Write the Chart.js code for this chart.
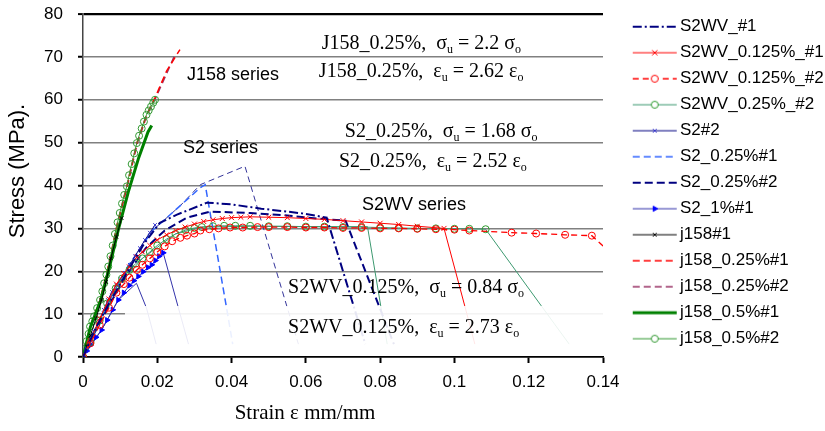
<!DOCTYPE html>
<html>
<head>
<meta charset="utf-8">
<script src="https://cdn.jsdelivr.net/npm/chart.js@4.4.1/dist/chart.umd.min.js"></script>
<style>
html,body{margin:0;padding:0;background:#fff}
#wrap{width:825px;height:431px}
</style>
</head>
<body>
<div id="wrap"><canvas id="c" width="825" height="431"></canvas></div>
<script>
// Stress-strain curves, strain in mm/mm, stress in MPa.
var strainTicks=[0,0.02,0.04,0.06,0.08,0.1,0.12,0.14];
var stressTicks=[0,10,20,30,40,50,60,70,80];

// S2WV series
var s2wv1X=[0,0.003,0.007,0.012,0.0165,0.0207,0.0253,0.0334,0.040,0.048,0.059,0.0656,0.0731,0.0760];
var s2wv1Y=[0,6,12.5,20,26.5,31.3,33.2,36,35.6,34.6,33.5,32.5,11.2,3];
var s2wv125aX=[0,0.002,0.0045,0.007,0.009,0.011,0.0125,0.0145,0.016,0.018,0.02,0.0225,0.025,0.0275,0.03,0.0325,0.035,0.0375,0.04,0.0425,0.045,0.05,0.055,0.06,0.065,0.07,0.075,0.08,0.085,0.09,0.0972,0.103,0.1055];
var s2wv125aY=[0,3.8,9,13.5,17,19.5,21,23.3,24.5,26,27.3,28.5,29.5,30.3,31,31.6,32,32.3,32.5,32.6,32.7,32.6,32.5,32.3,32.1,31.8,31.5,31.2,30.9,30.5,30,11.2,3];
var s2wv125bX=[0,0.002,0.0045,0.007,0.009,0.011,0.0125,0.0145,0.016,0.018,0.02,0.022,0.024,0.0262,0.028,0.03,0.0316,0.034,0.0365,0.0396,0.043,0.047,0.05,0.055,0.06,0.065,0.07,0.075,0.08,0.085,0.09,0.095,0.1,0.104,0.1154,0.122,0.1298,0.137,0.1405,0.1435];
var s2wv125bY=[0,3.2,7.5,11.5,15,17,18.5,20.3,21.5,23,24.5,25.8,27,27.8,28.3,28.8,29.5,29.8,30,30.2,30.2,30.3,30.3,30.3,30.2,30.2,30.1,30.1,30,30,29.9,29.8,29.7,29.5,29,28.8,28.5,28.3,25.5,21];
var s2wv25bX=[0,0.002,0.0045,0.0065,0.0088,0.0105,0.0125,0.0142,0.016,0.018,0.02,0.0225,0.0249,0.0276,0.03,0.032,0.035,0.038,0.041,0.045,0.05,0.055,0.06,0.065,0.07,0.075,0.08,0.085,0.09,0.095,0.1,0.104,0.1084,0.124,0.1309];
var s2wv25bY=[0,3.5,8.5,12.5,16,18.3,20.3,21.8,23,24.5,26,27.5,28.7,29.6,30.1,30.3,30.5,30.6,30.6,30.6,30.5,30.5,30.4,30.4,30.3,30.3,30.2,30.1,30,30,29.9,29.9,29.8,11.2,3];
var s2wvDropX=[0,0.0045,0.0088,0.016,0.0249,0.032,0.045,0.06,0.0766,0.0803,0.0819];
var s2wvDropY=[0,8.5,16,23,28.7,30.3,30.5,30.4,30.4,11.2,3];

// S2 series
var s2b2X=[0,0.001,0.002,0.003,0.0045,0.0056,0.0067,0.0078,0.009,0.0101,0.0113,0.0126,0.014,0.0153,0.0167,0.018,0.0194];
var s2b2Y=[0,2,4,6,8.5,11,13.3,15.2,16.8,18.2,19.6,21.5,23.5,25.4,27.3,29,30.8];
var s225aX=[0,0.003,0.007,0.012,0.0187,0.0262,0.0316,0.0329,0.0387,0.0403];
var s225aY=[0,6,13,21,29.5,35.3,39.5,40.2,11.2,3];
var s225bX=[0,0.003,0.007,0.012,0.017,0.022,0.028,0.0342,0.045,0.055,0.063,0.0707,0.080,0.0837];
var s225bY=[0,5.5,12,19.5,25.5,29.5,32.5,33.9,33.6,33,32.3,31.8,11.2,3];
var s225peakX=[0,0.003,0.007,0.012,0.0187,0.0262,0.0316,0.0436,0.0551,0.058];
var s225peakY=[0,6,13,21,29.5,35.3,40.2,44.5,11.2,3];
var s21aX=[0,0.001,0.002,0.0035,0.005,0.0065,0.008,0.0095,0.011,0.0125,0.0137,0.0149,0.0162,0.0175,0.0185,0.0195,0.0205,0.0216,0.0257,0.0284];
var s21aY=[0,1.4,2.8,4.6,6.3,8.6,11,13.3,15,16.7,17.8,18.8,19.9,20.9,21.5,22.5,23.5,24.3,11.4,3];
var s21bX=[0,0.005,0.0095,0.0144,0.0171,0.0197];
var s21bY=[0,6.3,13.3,17.2,11.4,3];

// J158 series
var j1X=[0,0.001,0.002,0.0035,0.005,0.0062,0.0075,0.009,0.0104];
var j1Y=[0,2.5,5,9,13.3,17.5,23,28,32.4];
var j25aX=[0,0.0019,0.0046,0.0068,0.0093,0.0118,0.0145,0.0171,0.0194,0.0225,0.0261];
var j25aY=[0,7.1,13.3,21.1,31.4,39.8,49.9,56.5,60.5,66.7,71.7];
var j25bX=[0,0.002,0.0047,0.0069,0.0094,0.0119,0.0146,0.0172,0.0196,0.0222,0.0245];
var j25bY=[0,7.2,13.5,21.2,31.3,39.7,49.8,56.4,60.5,65.5,70];
var j5aX=[0,0.002,0.0048,0.007,0.0096,0.0122,0.015,0.0175,0.0185];
var j5aY=[0,7,13.3,20.5,30,38.5,46.5,52.5,54];
var j5bX=[0,0.0005,0.001,0.0015,0.0019,0.0025,0.003,0.0038,0.0046,0.0052,0.0057,0.0063,0.0068,0.0074,0.008,0.0086,0.0093,0.0099,0.0105,0.0111,0.0118,0.0124,0.0131,0.0138,0.0145,0.0151,0.0158,0.0164,0.0171,0.0177,0.0183,0.0189,0.0194];
var j5bY=[0,1.9,3.7,5.4,7.1,8.3,9.5,11.4,13.3,15.3,17.2,19.2,21.1,23.5,26,28.7,31.4,33.6,35.8,37.8,39.8,42.4,45,47.5,49.9,51.6,53.3,54.9,56.5,57.5,58.4,59.3,60];

var seriesNotes=["J158 series","S2 series","S2WV series"];
// [text, isSubscript] runs
var ratioNotes=[
  [["J158_0.25%,  σ",0],["u",1],[" = 2.2 σ",0],["o",1]],
  [["J158_0.25%,  ε",0],["u",1],[" = 2.62 ε",0],["o",1]],
  [["S2_0.25%,  σ",0],["u",1],[" = 1.68 σ",0],["o",1]],
  [["S2_0.25%,  ε",0],["u",1],[" = 2.52 ε",0],["o",1]],
  [["S2WV_0.125%,  σ",0],["u",1],[" = 0.84 σ",0],["o",1]],
  [["S2WV_0.125%,  ε",0],["u",1],[" = 2.73 ε",0],["o",1]]
];
var xTitle="Strain ε mm/mm", yTitle="Stress (MPa).";

var SANS='Arial, "Liberation Sans", Helvetica, sans-serif';
var SERIF='"Times New Roman", "Liberation Serif", Times, serif';
Chart.defaults.font.family=SANS;
Chart.defaults.color="#000";

function pts(xs,ys){return xs.map(function(x,i){return {x:x,y:ys[i]};});}
function series(label,xs,ys,st){
  var n=xs.length,r=st.r||0,tail=st.tail||0;
  return {
    label:label,data:pts(xs,ys),order:st.order||0,
    borderColor:st.c,borderWidth:st.w,borderDash:st.dash||[],
    pointStyle:st.ps||"circle",pointRotation:st.rot||0,
    pointRadius:xs.map(function(x,i){return i>=n-tail?0:r;}),
    pointHoverRadius:0,
    pointBorderColor:st.pc||st.c,pointBackgroundColor:st.pf||"rgba(0,0,0,0)",
    pointBorderWidth:st.pw||1,
    fill:false,tension:0,
    mk:r
  };
}

var datasets=[
  series("S2WV_#1",s2wv1X,s2wv1Y,{c:"#000080",w:2,dash:[9,3,2,3]}),
  series("S2WV_0.125%_#1",s2wv125aX,s2wv125aY,{c:"#ff0000",w:1,ps:"crossRot",r:3.5,tail:2}),
  series("S2WV_0.125%_#2",s2wv125bX,s2wv125bY,{c:"#ff0000",w:1.3,dash:[6,4],r:3.5,tail:2}),
  series("S2WV_0.25%_#2",s2wv25bX,s2wv25bY,{c:"#3d9970",w:1,r:3.5,pc:"#2e9b2e",tail:2}),
  series("S2#2",s2b2X,s2b2Y,{c:"#000080",w:1,ps:"crossRot",r:2.5,pc:"#3333cc"}),
  series("S2_0.25%#1",s225aX,s225aY,{c:"#3366ff",w:1.5,dash:[7,4]}),
  series("S2_0.25%#2",s225bX,s225bY,{c:"#000080",w:2,dash:[8,4]}),
  series("S2_1%#1",s21aX,s21aY,{c:"#3333aa",w:1,ps:"triangle",rot:90,r:3,pc:"#0000ff",pf:"#0000ff",tail:2}),
  series("j158#1",j1X,j1Y,{c:"#000000",w:1,ps:"crossRot",r:2.5}),
  series("j158_0.25%#1",j25aX,j25aY,{c:"#ff0000",w:1.5,dash:[7,4],order:1}),
  series("j158_0.25%#2",j25bX,j25bY,{c:"#993366",w:1.5,dash:[7,4],order:1}),
  series("j158_0.5%#1",j5aX,j5aY,{c:"#008000",w:3}),
  series("j158_0.5%#2",j5bX,j5bY,{c:"#339933",w:1,r:3.5}),
  // curves drawn in the plot but not listed in its legend
  series("",s225peakX,s225peakY,{c:"#333399",w:1,dash:[6,4],order:1}),
  series("",s2wvDropX,s2wvDropY,{c:"#3d9970",w:1,order:1}),
  series("",s21bX,s21bY,{c:"#3333aa",w:1,order:1})
];

function drawMark(g,style,r,x,y,stroke,fill){
  g.strokeStyle=stroke;g.fillStyle=fill;g.lineWidth=1;g.beginPath();
  if(style==="crossRot"){var a=r*0.75;g.moveTo(x-a,y-a);g.lineTo(x+a,y+a);g.moveTo(x+a,y-a);g.lineTo(x-a,y+a);g.stroke();}
  else if(style==="triangle"){g.moveTo(x+r,y);g.lineTo(x-r/2,y-r*0.87);g.lineTo(x-r/2,y+r*0.87);g.closePath();g.fill();g.stroke();}
  else{g.arc(x,y,r,0,2*Math.PI);g.fill();g.stroke();}
}
// legend sample: line plus marker, drawn into a small canvas used as the point style
function swatch(d){
  var c=document.createElement("canvas");c.width=72;c.height=14;
  var g=c.getContext("2d");
  g.strokeStyle=d.borderColor;g.lineWidth=d.borderWidth;g.setLineDash(d.borderDash);
  g.beginPath();g.moveTo(27,7);g.lineTo(71,7);g.stroke();g.setLineDash([]);
  if(d.mk)drawMark(g,d.pointStyle,d.mk,49,7,d.pointBorderColor,d.pointBackgroundColor==="rgba(0,0,0,0)"?"#fff":d.pointBackgroundColor);
  return c;
}
var swatches=datasets.map(swatch);

function drawRuns(ctx,runs,x,y,size){
  runs.forEach(function(r){
    var s=r[1]?Math.round(size*0.62):size;
    ctx.font=s+"px "+SERIF;
    ctx.fillText(r[0],x,y+(r[1]?4:0));
    x+=ctx.measureText(r[0]).width;
  });
}

// the legend keeps a fixed 222px column on the right, so the plot ends at x=603
var legendWidthPlugin={
  id:"legendWidth",
  beforeLayout:function(ch){
    var lg=ch.legend;
    if(lg&&!lg._fixedW){
      var fit=lg.fit;
      lg.fit=function(){fit.call(this);this.width=222;};
      lg._fixedW=true;
    }
  }
};

var notesPlugin={
  id:"notes",
  afterDatasetsDraw:function(ch){
    var ctx=ch.ctx,xs=ch.scales.x,ys=ch.scales.y,a=ch.chartArea;
    ctx.save();
    // white label box that fades the curves near the bottom
    var bx=xs.getPixelForValue(0.0113),by=ys.getPixelForValue(11.9);
    ctx.fillStyle="rgba(255,255,255,0.9)";
    ctx.fillRect(bx,by,a.right-bx,ys.getPixelForValue(0.7)-by);
    ctx.fillStyle="#000";ctx.textBaseline="alphabetic";ctx.textAlign="left";
    var sp=[[0.0280,64.5],[0.0269,47.5],[0.0751,34.4]];
    ctx.font="18px "+SANS;
    seriesNotes.forEach(function(t,i){ctx.fillText(t,xs.getPixelForValue(sp[i][0]),ys.getPixelForValue(sp[i][1]));});
    var rp=[[0.0643,71.8],[0.0635,65.4],[0.0705,51.3],[0.0689,44.4],[0.0552,14.9],[0.0552,5.6]];
    ratioNotes.forEach(function(runs,i){drawRuns(ctx,runs,xs.getPixelForValue(rp[i][0]),ys.getPixelForValue(rp[i][1]),20);});
    // axis titles
    ctx.textAlign="center";ctx.textBaseline="middle";
    ctx.font="21px "+SERIF;
    ctx.fillText(xTitle,305,413);
    ctx.translate(17.5,171);ctx.rotate(-Math.PI/2);
    ctx.font="22px "+SANS;
    ctx.fillText(yTitle,0,0);
    ctx.restore();
  }
};

new Chart(document.getElementById("c"),{
  type:"line",
  data:{datasets:datasets},
  plugins:[legendWidthPlugin,notesPlugin],
  options:{
    responsive:false,animation:false,devicePixelRatio:1,events:[],
    layout:{padding:0},
    elements:{line:{tension:0}},
    plugins:{
      tooltip:{enabled:false},
      legend:{
        position:"right",align:"start",
        title:{display:true,text:"",padding:0,font:{size:9.2,lineHeight:1}},
        labels:{
          usePointStyle:true,pointStyleWidth:59.5,padding:9,color:"#000",
          font:{size:17,family:SANS},
          generateLabels:function(ch){
            return ch.data.datasets.map(function(d,i){
              return {text:d.label,pointStyle:swatches[i],datasetIndex:i,lineWidth:0,
                strokeStyle:"rgba(0,0,0,0)",fillStyle:"rgba(0,0,0,0)",fontColor:"#000",hidden:false};
            }).filter(function(it){return it.text;});
          }
        }
      }
    },
    scales:{
      x:{
        type:"linear",min:0,max:0.14,
        afterBuildTicks:function(s){s.ticks=strainTicks.map(function(v){return {value:v};});},
        afterFit:function(s){s.height=74;s.paddingLeft=0;s.paddingRight=0;},
        ticks:{padding:9,font:{size:17},color:"#000",maxRotation:0,
          callback:function(v){return String(+v.toFixed(3));}},
        grid:{drawOnChartArea:false,drawTicks:true,tickLength:6,tickWidth:2,tickColor:"#000"},
        border:{display:true,color:"#000",width:1.5},
        title:{display:false}
      },
      y:{
        min:0,max:80,
        afterBuildTicks:function(s){s.ticks=stressTicks.map(function(v){return {value:v};});},
        afterFit:function(s){s.width=83;s.paddingTop=14;s.paddingBottom=0;},
        ticks:{padding:15,font:{size:17},color:"#000"},
        grid:{
          color:function(c){var v=c.tick&&c.tick.value;return (v===80||v===0)?"#000":"#808080";},
          lineWidth:function(c){return c.tick&&c.tick.value===80?2.2:1.5;},
          tickLength:5,tickWidth:2,tickColor:"#000"
        },
        border:{display:true,color:"#444",width:1.5},
        title:{display:false}
      }
    }
  }
});
</script>
</body>
</html>
